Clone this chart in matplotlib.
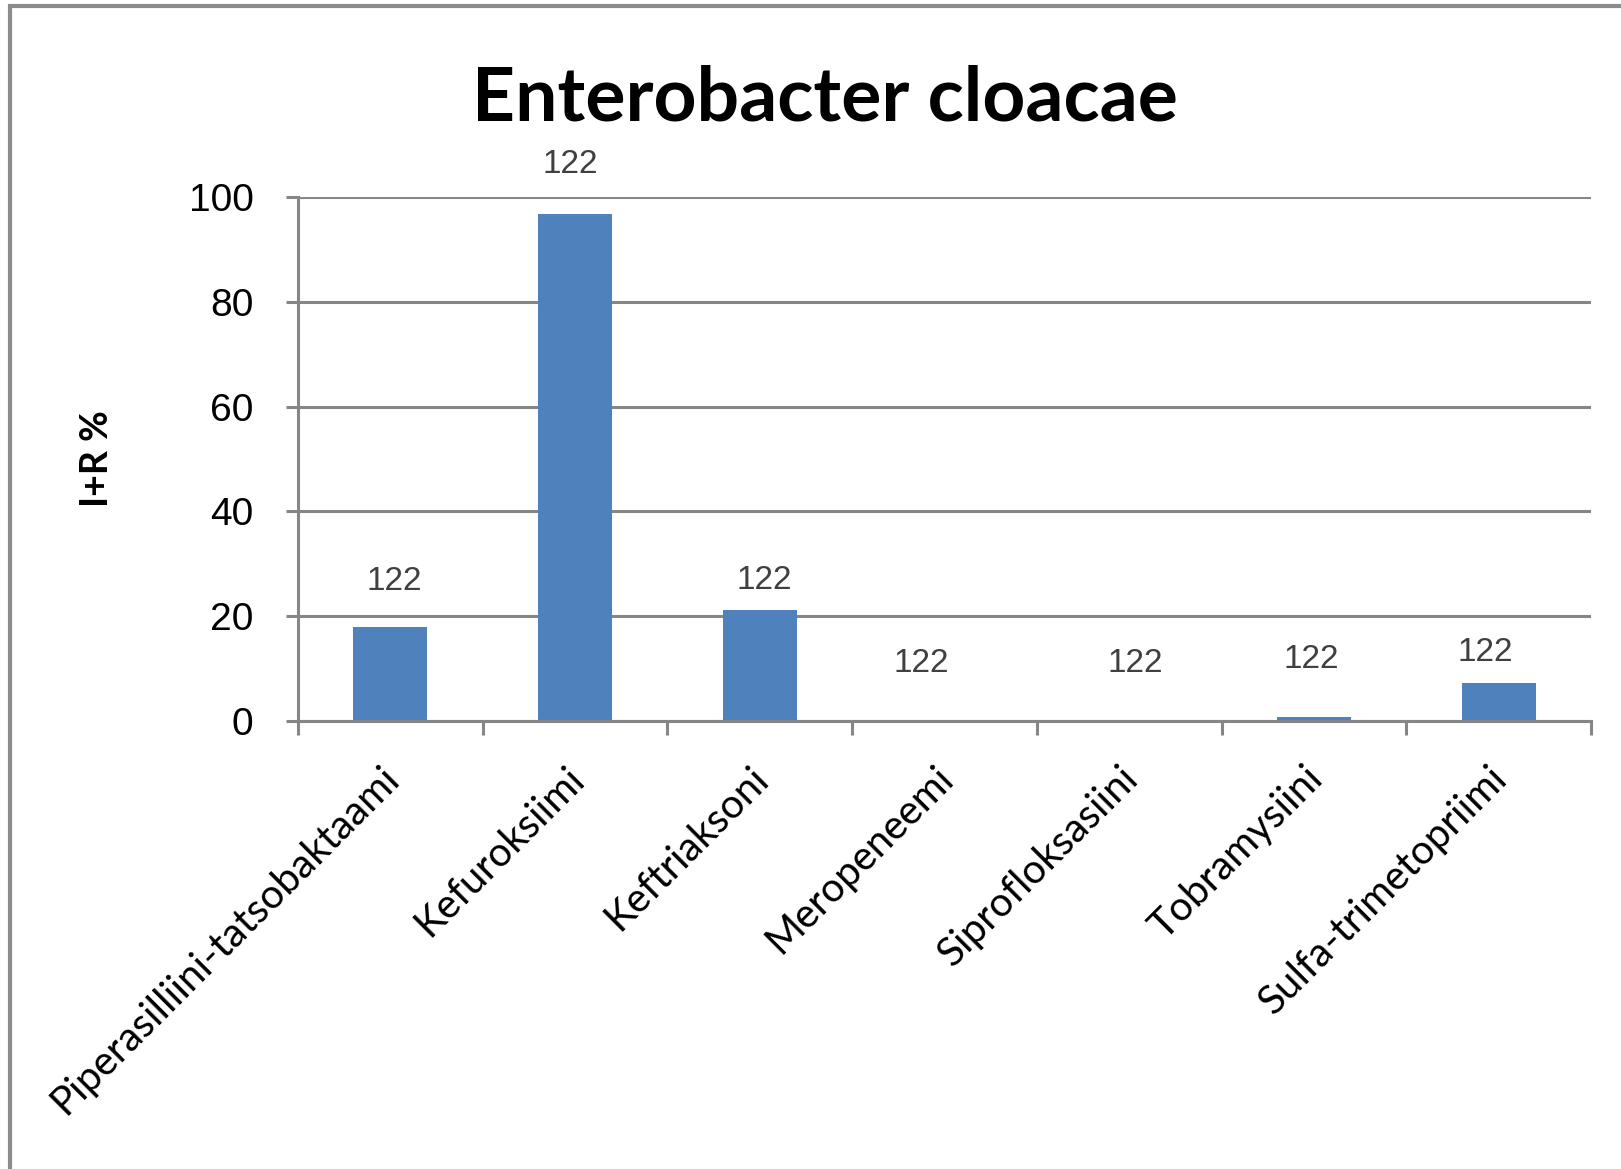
import numpy as np
import matplotlib.pyplot as plt
import matplotlib
from matplotlib.patches import Rectangle

# data
categories = ['Piperasilliini-tatsobaktaami', 'Kefuroksiimi', 'Keftriaksoni', 'Meropeneemi',
              'Siprofloksasiini', 'Tobramysiini', 'Sulfa-trimetopriimi']
values = [18.0, 96.8, 21.2, 0.0, 0.0, 0.8, 7.3]
counts = [122, 122, 122, 122, 122, 122, 122]
y_ticks = [0, 20, 40, 60, 80, 100]

# styles
bar_color = '#4F81BD'
grid_color = '#868686'
label_font = 'Lato'
num_font = 'Liberation Sans'
px = 72 / 100  # pixels -> points
# count label placement relative to bar top (pixels), as Excel placed them
label_dx = [4, -5, 4, -23, 6, -3, -13]
label_dy = [45, 49, 29, 58, 58, 57, 30]

fig = plt.figure(figsize=(16.21, 11.69), dpi=100)
ax = fig.add_axes([0.1838, 0.3832, 0.9815 - 0.1838, 0.8315 - 0.3832])

x = np.arange(len(categories))
ax.bar(x, values, width=0.4, color=bar_color, zorder=3)

# labels above bars
for xi, v, c, dx, dy in zip(x, values, counts, label_dx, label_dy):
    ax.annotate(str(c), (xi, v), xytext=(dx * px, dy * px), textcoords='offset points',
                ha='center', va='center', fontsize=24, color='#404040', family=num_font)

ax.set_xlim(-0.5, len(categories) - 0.5)
ax.set_ylim(0, 100)
ax.set_yticks(y_ticks)
ax.set_yticklabels([str(t) for t in y_ticks], fontsize=28, family=num_font, color='black')
ax.grid(axis='y', color=grid_color, linewidth=2.2, zorder=0)
ax.tick_params(axis='y', length=9, width=2.2, color=grid_color, pad=23)

# category boundaries as ticks
ax.set_xticks(np.arange(len(categories) + 1) - 0.5)
ax.set_xticklabels([])
ax.tick_params(axis='x', length=10, width=2.2, color=grid_color)
for xi, cat in zip(x, categories):
    ax.annotate(cat, (xi, 0), xytext=(2, -37), textcoords='offset points', rotation=45,
                rotation_mode='anchor', ha='right', va='center', fontsize=29, family=label_font,
                annotation_clip=False)

for side in ['top', 'right']:
    ax.spines[side].set_visible(False)
for side in ['left', 'bottom']:
    ax.spines[side].set_color(grid_color)
    ax.spines[side].set_linewidth(2.2)
    ax.spines[side].set_zorder(4)

ax.set_ylabel('I+R %', fontsize=27, fontweight='bold', family=label_font)
ax.yaxis.set_label_coords(-0.142, 0.5)

fig.text(825 / 1621, 1 - 99 / 1169, 'Enterobacter cloacae', ha='center', va='center',
         fontsize=54, fontweight='bold', family=label_font)

# outer chart frame (cut off at right and bottom)
fig.patches.append(Rectangle((10 / 1621, -0.1), 1.2, 1.1 - 6 / 1169, transform=fig.transFigure,
                             fill=False, edgecolor='#8C8C8C', linewidth=3))

plt.savefig('out.png', dpi=100)
plt.close()
